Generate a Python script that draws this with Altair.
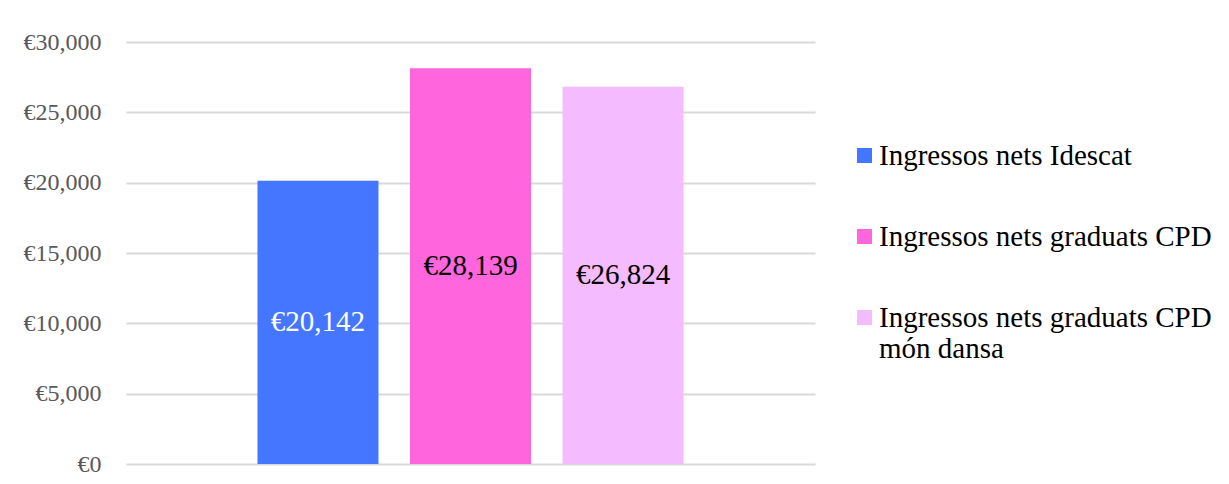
import altair as alt
import pandas as pd

series = ["Ingressos nets Idescat", "Ingressos nets graduats CPD", "Ingressos nets graduats CPD món dansa"]
values = [20142, 28139, 26824]
label_colors = ["white", "black", "black"]
bar_colors = ["#4576FF", "#FF66DD", "#F5BBFF"]
y_ticks = [0, 5000, 10000, 15000, 20000, 25000, 30000]

df = pd.DataFrame({"series": series, "value": values, "label_color": label_colors})

FONT = "Liberation Serif"

x_enc = alt.X("series:N", sort=series, axis=None,
              scale=alt.Scale(paddingInner=0.2066, paddingOuter=0.862))

bars = alt.Chart(df).mark_bar().encode(
    x=x_enc,
    y=alt.Y("value:Q",
            scale=alt.Scale(domain=[0, 30000], nice=False),
            axis=alt.Axis(values=y_ticks, title=None, domain=False, ticks=False,
                          labelExpr="'€' + format(datum.value, ',')",
                          labelFont=FONT, labelFontSize=24, labelColor="#595959",
                          labelPadding=25, gridColor="#D9D9D9", gridWidth=2)),
    color=alt.Color("series:N", sort=series,
                    scale=alt.Scale(domain=series, range=bar_colors),
                    legend=alt.Legend(
                        title=None, orient="none", legendX=724, legendY=99,
                        symbolType="square", symbolSize=225, symbolStrokeWidth=0,
                        labelFont=FONT, labelFontSize=29, labelColor="black",
                        labelLimit=400, labelOffset=0, rowPadding=51, padding=0,
                        labelExpr="datum.label == 'Ingressos nets graduats CPD món dansa' ? ['Ingressos nets graduats CPD', 'món dansa'] : datum.label")),
)

labels = alt.Chart(df).transform_calculate(
    mid="datum.value / 2",
    txt="'€' + format(datum.value, ',')",
).mark_text(font=FONT, fontSize=29, baseline="middle", align="center").encode(
    x=x_enc,
    y=alt.Y("mid:Q"),
    text="txt:N",
    color=alt.Color("label_color:N", scale=None),
)

chart = alt.layer(bars, labels).properties(
    width=689, height=422,
    autosize=alt.AutoSizeParams(type="none"),
    padding={"left": 118, "top": 34, "right": 405, "bottom": 18},
    background="white",
).configure(font=FONT).configure_legend(
    labelFont=FONT, labelFontSize=29, labelColor="black"
).configure_view(stroke=None)

chart.save("out.html", embed_options={"renderer": "svg", "actions": False})
